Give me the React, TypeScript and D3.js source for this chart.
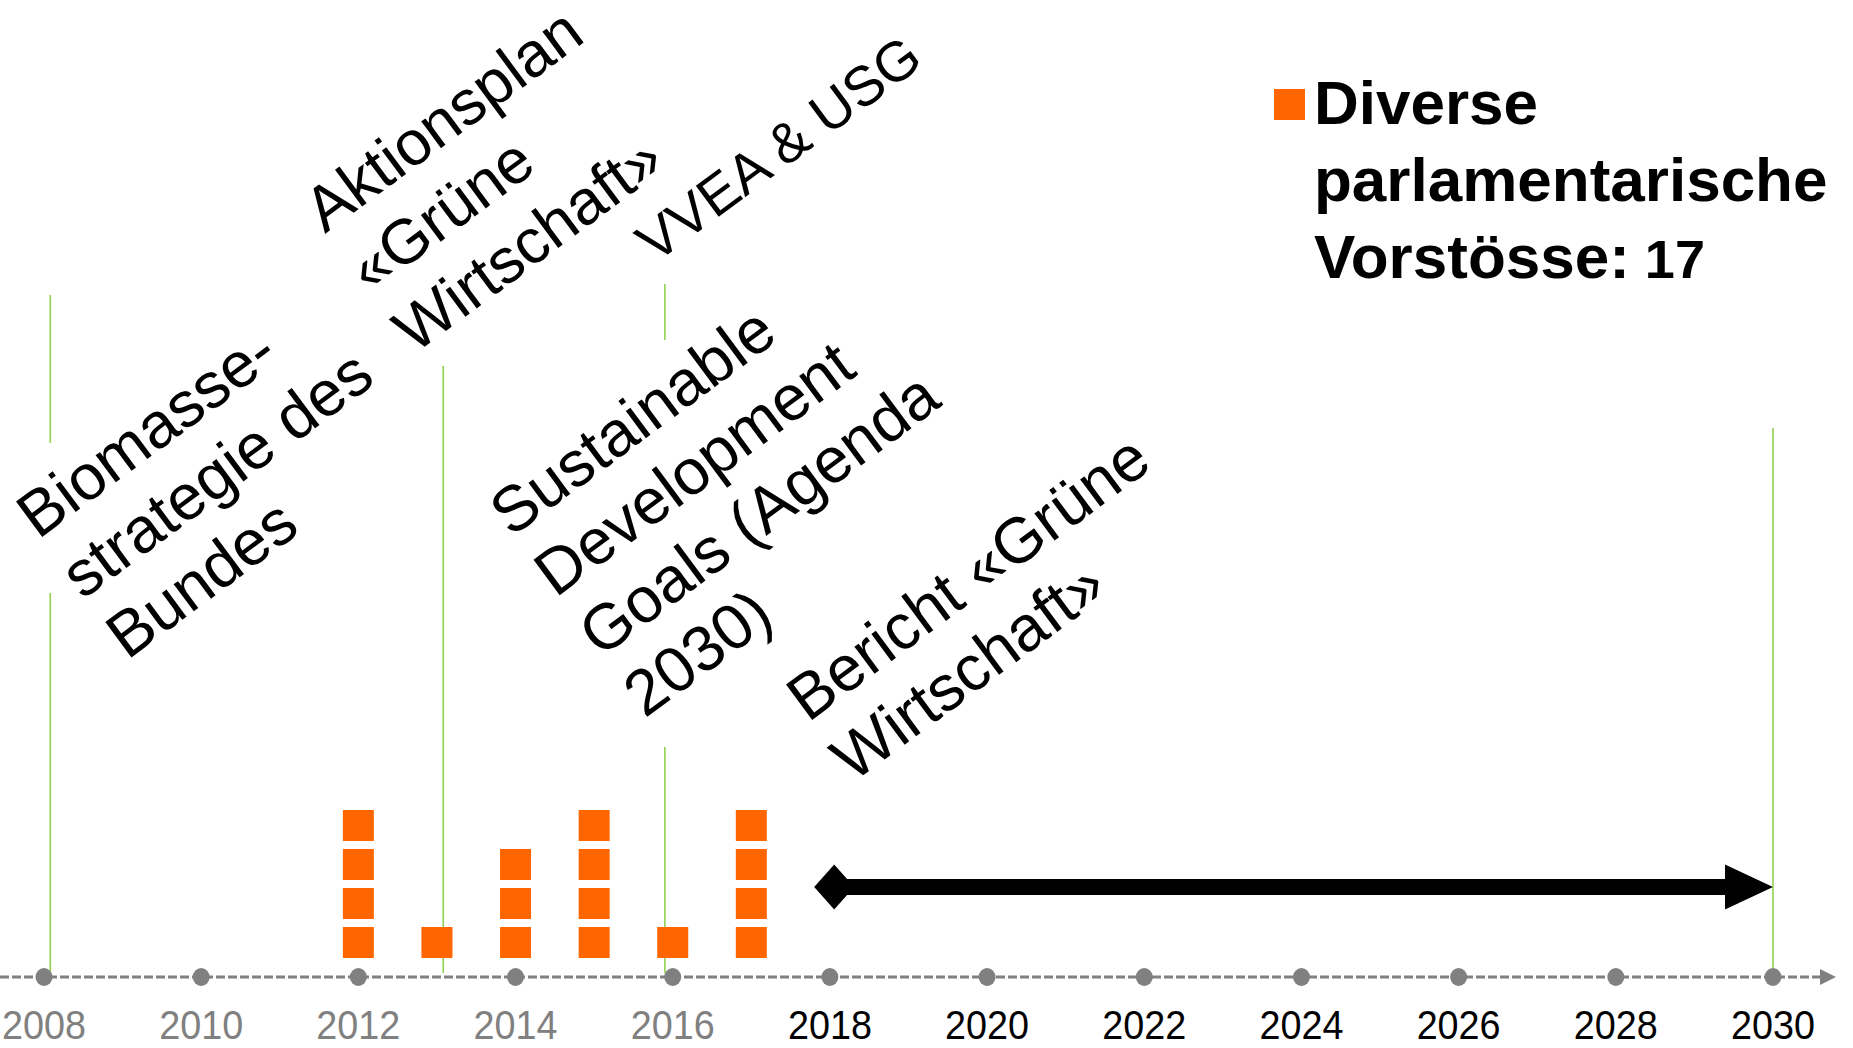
import { useEffect, useRef } from 'react';
import * as d3 from 'd3';

// axis ticks
const tickYears = [2008, 2010, 2012, 2014, 2016, 2018, 2020, 2022, 2024, 2026, 2028, 2030];
const pastUntil = 2017;

// parliamentary motions per year (one square each)
const motionYears = [2012, 2013, 2014, 2015, 2016, 2017];
const motionCounts = [4, 1, 3, 4, 1, 4];

// milestones (green markers)
const milestoneYears = [2008.08, 2013.08, 2015.9, 2030];

// outlook arrow
const outlookStart = 2017.8;
const outlookEnd = 2030;

// annotation texts
const annotationLines = [
  ['Biomasse-', 'strategie des', 'Bundes'],
  ['Aktionsplan', '«Grüne', 'Wirtschaft»'],
  ['VVEA & USG'],
  ['Sustainable', 'Development', 'Goals (Agenda', '2030)'],
  ['Bericht «Grüne', 'Wirtschaft»'],
];

const legendLines = ['Diverse', 'parlamentarische', 'Vorstösse:'];
const legendTotal = '17';

// layout only
const annotationAnchors = [
  [38, 540],
  [325, 234],
  [655, 264],
  [511, 538],
  [808, 723],
];
const annotationSizes = [64, 63, 56, 64, 64];
const milestoneSegments = [
  [[295, 443], [593, 973]],
  [[366, 973]],
  [[284, 340], [747, 973]],
  [[428, 977]],
];

const W = 1853;
const H = 1048;
const ORANGE = '#FF6600';
const GREY = '#808080';
const FONT = '"Liberation Sans", Arial, Helvetica, sans-serif';

export default function App() {
  const svgRef = useRef<SVGSVGElement>(null);

  useEffect(() => {
    if (!svgRef.current) return;
    const svg = d3.select(svgRef.current);
    svg.selectAll('*').remove();

    const axisY = 977;
    const x = d3.scaleLinear().domain([2008, 2030]).range([44, 1773]);

    // stack position of squares
    const sq = 31;
    const stack = d3.scaleLinear().domain([0, 1]).range([axisY - 19, axisY - 19 - 39]);

    // green milestone lines
    milestoneYears.forEach((yr, i) => {
      milestoneSegments[i].forEach(([y1, y2]) => {
        svg
          .append('line')
          .attr('x1', x(yr))
          .attr('x2', x(yr))
          .attr('y1', y1)
          .attr('y2', y2)
          .attr('stroke', '#92D050')
          .attr('stroke-width', 1.6);
      });
    });

    // axis line
    svg
      .append('line')
      .attr('x1', 0)
      .attr('x2', 1822)
      .attr('y1', axisY)
      .attr('y2', axisY)
      .attr('stroke', GREY)
      .attr('stroke-width', 3)
      .attr('stroke-dasharray', '9,3');

    svg
      .append('path')
      .attr('d', `M1820,${axisY - 8} L1836,${axisY} L1820,${axisY + 8} Z`)
      .attr('fill', GREY);

    // dots + labels
    svg
      .selectAll('.dot')
      .data(tickYears)
      .enter()
      .append('ellipse')
      .attr('cx', d => x(d))
      .attr('cy', axisY)
      .attr('rx', 8.5)
      .attr('ry', 9)
      .attr('fill', GREY);

    svg
      .selectAll('.tick-label')
      .data(tickYears)
      .enter()
      .append('text')
      .attr('x', d => x(d))
      .attr('y', 1039)
      .attr('text-anchor', 'middle')
      .attr('font-family', FONT)
      .attr('font-size', 41)
      .attr('textLength', 84)
      .attr('lengthAdjust', 'spacingAndGlyphs')
      .attr('fill', d => (d <= pastUntil ? GREY : '#000'))
      .text(d => d);

    // motion squares
    const squares = motionYears.flatMap((yr, i) =>
      d3.range(motionCounts[i]).map(k => ({ yr, k }))
    );
    svg
      .selectAll('.motion')
      .data(squares)
      .enter()
      .append('rect')
      .attr('x', d => x(d.yr) - sq / 2)
      .attr('y', d => stack(d.k) - sq)
      .attr('width', sq)
      .attr('height', sq)
      .attr('fill', ORANGE);

    // outlook double arrow
    const x0 = x(outlookStart);
    const x1 = x(outlookEnd);
    const cy = 887;
    const g = svg.append('g').attr('fill', '#000');
    g.append('path').attr(
      'd',
      `M${x0},${cy} L${x0 + 20},${cy - 22.5} L${x0 + 40},${cy} L${x0 + 20},${cy + 22.5} Z`
    );
    g.append('rect')
      .attr('x', x0 + 20)
      .attr('y', cy - 8)
      .attr('width', x1 - 47 - (x0 + 20))
      .attr('height', 16);
    g.append('path').attr(
      'd',
      `M${x1 - 48},${cy - 22.5} L${x1},${cy} L${x1 - 48},${cy + 22.5} Z`
    );

    // rotated annotations
    annotationLines.forEach((lines, i) => {
      const [ax, ay] = annotationAnchors[i];
      const t = svg
        .append('text')
        .attr('transform', `translate(${ax},${ay}) rotate(-36.5)`)
        .attr('font-family', FONT)
        .attr('font-size', annotationSizes[i])
        .attr('fill', '#000');
      lines.forEach((line, j) => {
        t.append('tspan').attr('x', 0).attr('y', j * 75).text(line);
      });
    });

    // legend
    svg
      .append('rect')
      .attr('x', 1274)
      .attr('y', 89)
      .attr('width', sq)
      .attr('height', sq)
      .attr('fill', ORANGE);

    const lg = svg
      .append('text')
      .attr('font-family', FONT)
      .attr('font-weight', 'bold')
      .attr('font-size', 62)
      .attr('fill', '#000');
    legendLines.forEach((line, j) => {
      lg.append('tspan').attr('x', 1314).attr('y', 124 + j * 77).text(line);
      if (j === legendLines.length - 1) {
        lg.append('tspan').attr('font-size', 54).text(' ' + legendTotal);
      }
    });
  }, []);

  return (
    <svg
      ref={svgRef}
      width={W}
      height={H}
      style={{ position: 'absolute', left: 0, top: 0, background: '#fff' }}
    />
  );
}
